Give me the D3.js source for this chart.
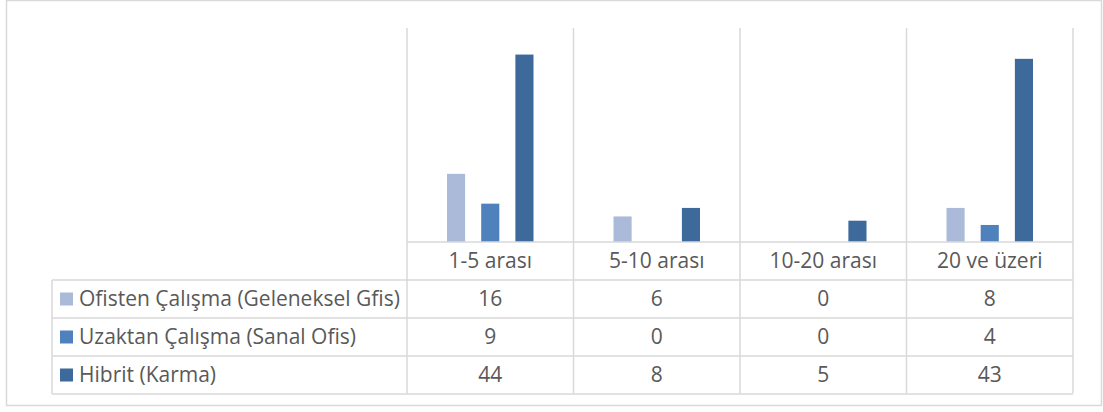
<!DOCTYPE html>
<html>
<head>
<meta charset="utf-8">
<script src="https://cdn.jsdelivr.net/npm/d3@7"></script>
<style>
    body { margin: 0; background: #fff; }
    svg text { font-family: "Open Sans", Lato, sans-serif; fill: #595959; }
</style>
</head>
<body>
<div id="chart"></div>
<script>
// Data
const categories = ["1-5 arası", "5-10 arası", "10-20 arası", "20 ve üzeri"];
const seriesNames = ["Ofisten Çalışma (Geleneksel Gfis)", "Uzaktan Çalışma (Sanal Ofis)", "Hibrit (Karma)"];
const ofisten = [16, 6, 0, 8];
const uzaktan = [9, 0, 0, 4];
const hibrit = [44, 8, 5, 43];
const seriesColors = ["#abbad8", "#4f81bd", "#3e6a9b"];

const seriesValues = [ofisten, uzaktan, hibrit];

const width = 1103;
const height = 412;
const plotLeft = 407;
const plotRight = 1073;
const plotTop = 29;
const plotBottom = 242;
const tableLeft = 52;
const rowH = 38;
const gridColor = "#d9d9d9";
const fontSize = "21px";

const svg = d3.select("#chart")
              .append("svg")
              .attr("width", width)
              .attr("height", height);

// Outer chart border
svg.append("rect")
   .attr("x", 6.5)
   .attr("y", 0.5)
   .attr("width", 1095)
   .attr("height", 405)
   .attr("fill", "none")
   .attr("stroke", gridColor)
   .attr("stroke-width", 1.5);

const x0 = d3.scaleBand()
             .domain(categories)
             .range([plotLeft, plotRight]);

const x1 = d3.scaleBand()
             .domain(d3.range(seriesNames.length))
             .range([40, x0.bandwidth() - 40])
             .paddingInner(0.47);

const y = d3.scaleLinear()
            .domain([0, 50])
            .range([plotBottom, plotTop]);

// Vertical gridlines (category boundaries, running through the table)
const bounds = categories.map(c => x0(c)).concat([plotRight]);
svg.append("g")
   .selectAll("line")
   .data(bounds)
   .enter()
   .append("line")
   .attr("x1", d => d)
   .attr("x2", d => d)
   .attr("y1", plotTop - 1)
   .attr("y2", plotBottom + rowH * 4 - 0.5)
   .attr("stroke", gridColor)
   .attr("stroke-width", 1.5);

// Bars
seriesValues.forEach((vals, si) => {
    svg.append("g")
       .selectAll("rect")
       .data(vals.map((v, i) => ({ cat: categories[i], v: v })))
       .enter()
       .append("rect")
       .attr("x", d => x0(d.cat) + x1(si))
       .attr("y", d => y(d.v))
       .attr("width", x1.bandwidth())
       .attr("height", d => y(0) - y(d.v))
       .attr("fill", seriesColors[si]);
});

// Table horizontal lines
const rowLines = d3.range(5).map(i => plotBottom + i * rowH);
svg.append("g")
   .selectAll("line")
   .data(rowLines)
   .enter()
   .append("line")
   .attr("x1", (d, i) => i === 0 ? plotLeft : tableLeft)
   .attr("x2", plotRight)
   .attr("y1", d => d)
   .attr("y2", d => d)
   .attr("stroke", gridColor)
   .attr("stroke-width", 1.5);

svg.append("line")
   .attr("x1", tableLeft)
   .attr("x2", tableLeft)
   .attr("y1", plotBottom + rowH)
   .attr("y2", plotBottom + rowH * 4)
   .attr("stroke", gridColor)
   .attr("stroke-width", 1.5);

// Header row (category labels)
svg.append("g")
   .selectAll("text")
   .data(categories)
   .enter()
   .append("text")
   .attr("x", d => x0(d) + x0.bandwidth() / 2)
   .attr("y", plotBottom + rowH / 2)
   .attr("dy", "0.35em")
   .attr("text-anchor", "middle")
   .style("font-size", fontSize)
   .text(d => d);

// Data rows with legend keys
seriesNames.forEach((name, si) => {
    const rowY = plotBottom + rowH * (si + 1);
    svg.append("rect")
       .attr("x", 60)
       .attr("y", rowY + rowH / 2 - 6.5)
       .attr("width", 13)
       .attr("height", 13)
       .attr("fill", seriesColors[si]);

    svg.append("text")
       .attr("x", 79)
       .attr("y", rowY + rowH / 2)
       .attr("dy", "0.35em")
       .style("font-size", fontSize)
       .text(name);

    svg.append("g")
       .selectAll("text")
       .data(seriesValues[si].map((v, i) => ({ cat: categories[i], v: v })))
       .enter()
       .append("text")
       .attr("x", d => x0(d.cat) + x0.bandwidth() / 2)
       .attr("y", rowY + rowH / 2)
       .attr("dy", "0.35em")
       .attr("text-anchor", "middle")
       .style("font-size", fontSize)
       .text(d => d.v);
});
</script>
</body>
</html>
